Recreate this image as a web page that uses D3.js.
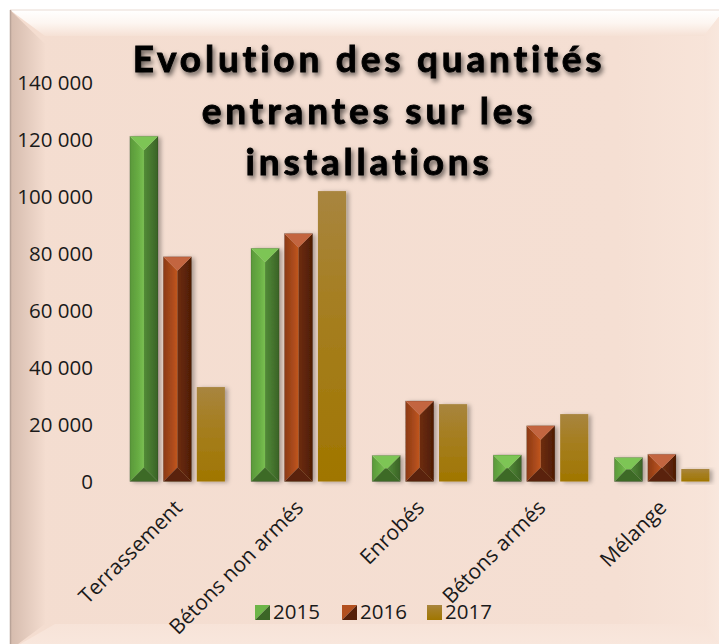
<!DOCTYPE html>
<html><head><meta charset="utf-8">
<script src="https://cdn.jsdelivr.net/npm/d3@7"></script>
<style>html,body{margin:0;padding:0;background:#fff;}svg{display:block;}</style>
</head><body>
<script>
const categories = ["Terrassement", "Bétons non armés", "Enrobés", "Bétons armés", "Mélange"];
const years = ["2015", "2016", "2017"];
const values2015 = [121400, 82000, 9100, 9300, 8400];
const values2016 = [79000, 87200, 28300, 19600, 9600];
const values2017 = [33200, 102100, 27200, 23700, 4400];
const yTicks = [0, 20000, 40000, 60000, 80000, 100000, 120000, 140000];
const titleLines = ["Evolution des quantités", "entrantes sur les", "installations"];

const W = 719, H = 644;
const svg = d3.select("body").append("svg").attr("width", W).attr("height", H);
const defs = svg.append("defs");

function lin(id, x1, y1, x2, y2, stops) {
  const g = defs.append("linearGradient").attr("id", id)
    .attr("x1", x1).attr("y1", y1).attr("x2", x2).attr("y2", y2);
  stops.forEach(s => g.append("stop").attr("offset", s[0]).attr("stop-color", s[1]));
}
// frame gradients
lin("gTop", 0, 0, 0, 1, [[0, "#ffffff"], [0.5, "#fdf6f1"], [1, "#f6e1d5"]]);
lin("gLeft", 0, 0, 1, 0, [[0, "#d5bbad"], [1, "#f3dccf"]]);
lin("gRight", 0, 0, 1, 0, [[0, "#f7e3d8"], [1, "#f9e9df"]]);
lin("gBot", 0, 0, 0, 1, [[0, "#f7e3d8"], [1, "#f9e8de"]]);
lin("gInner", 0, 0, 1, 0, [[0, "#f4ddd0"], [0.85, "#f5dfd3"], [1, "#f8e5da"]]);
// bar face gradients
lin("gL2015", 0, 0, 1, 0, [[0, "#5a983a"], [0.6, "#68ad43"], [1, "#79bf52"]]);
lin("gR2015", 0, 0, 1, 0, [[0, "#528b37"], [1, "#3a6226"]]);
lin("gL2016", 0, 0, 1, 0, [[0, "#8c3a15"], [0.6, "#aa4a1b"], [1, "#c2561f"]]);
lin("gR2016", 0, 0, 1, 0, [[0, "#6e2d0c"], [1, "#4e1c05"]]);
lin("gF2017", 0, 0, 0, 1, [[0, "#a8853f"], [0.35, "#a67f24"], [1, "#a07600"]]);

const shadow = defs.append("filter").attr("id", "barShadow").attr("x", "-30%").attr("y", "-10%").attr("width", "170%").attr("height", "130%");
shadow.append("feDropShadow").attr("dx", 3).attr("dy", 1).attr("stdDeviation", 2).attr("flood-color", "#000").attr("flood-opacity", 0.3);
const tshadow = defs.append("filter").attr("id", "titleShadow").attr("x", "-10%").attr("y", "-30%").attr("width", "120%").attr("height", "170%");
tshadow.append("feDropShadow").attr("dx", 2).attr("dy", 3).attr("stdDeviation", 2.4).attr("flood-color", "#000").attr("flood-opacity", 0.6);
const lshadow = defs.append("filter").attr("id", "lineGlow").attr("x", "-5%").attr("y", "-200%").attr("width", "110%").attr("height", "500%");
lshadow.append("feDropShadow").attr("dx", 0).attr("dy", 2).attr("stdDeviation", 1.5).attr("flood-color", "#9a8478").attr("flood-opacity", 0.5);

// ---- frame ----
const fx0 = 10, fy0 = 10, fx1 = 724, fy1 = 650;
const bt = 36, bl = 45, br = 704, bb = 624;
const frame = svg.append("g");
frame.append("rect").attr("x", fx0).attr("y", fy0).attr("width", fx1 - fx0).attr("height", fy1 - fy0).attr("fill", "url(#gInner)");
frame.append("polygon").attr("points", [[fx0, fy0], [fx1, fy0], [br, bt], [bl, bt]].join(" ")).attr("fill", "url(#gTop)");
frame.append("polygon").attr("points", [[fx0, fy0], [bl, bt + 8], [bl, bb], [fx0, fy1]].join(" ")).attr("fill", "url(#gLeft)");
frame.append("polygon").attr("points", [[fx1, fy0], [br, bt], [br, bb], [fx1, fy1]].join(" ")).attr("fill", "url(#gRight)");
frame.append("polygon").attr("points", [[fx0, fy1], [bl + 10, bb], [br, bb], [fx1, fy1]].join(" ")).attr("fill", "url(#gBot)");
frame.append("line").attr("x1", fx0).attr("y1", fy0).attr("x2", fx1).attr("y2", fy0).attr("stroke", "#eadcd4").attr("stroke-width", 1.2);
frame.append("line").attr("x1", fx0 + 0.5).attr("y1", fy0).attr("x2", fx0 + 0.5).attr("y2", fy1).attr("stroke", "#b9a398").attr("stroke-width", 1.5);

// ---- scales ----
const y = d3.scaleLinear().domain([0, 140000]).range([481.5, 83.3]);
const x0 = d3.scaleBand().domain(categories).range([116.9, 722.5]).padding(0);
const x1 = d3.scaleBand().domain(years).range([13, 108]).paddingInner(0.16);
const seriesByYear = { "2015": values2015, "2016": values2016, "2017": values2017 };

const locale = d3.formatLocale({ decimal: ",", thousands: " ", grouping: [3], currency: ["", " €"] });
const fmt = locale.format(",d");

// y axis
const yAxis = svg.append("g").attr("transform", "translate(100,0)")
  .call(d3.axisLeft(y).tickValues(yTicks).tickFormat(fmt).tickSize(0).tickPadding(7));
yAxis.select(".domain").remove();
yAxis.selectAll("text").attr("font-family", "'Open Sans', sans-serif").attr("font-size", 20.5).attr("fill", "#1a1a1a");

// baseline
svg.append("line").attr("x1", x0.range()[0]).attr("x2", W).attr("y1", y(0) + 1).attr("y2", y(0) + 1)
  .attr("stroke", "#fbf2ed").attr("stroke-width", 3).attr("filter", "url(#lineGlow)");

// title
const title = svg.append("g").attr("filter", "url(#titleShadow)");
titleLines.forEach((t, i) => {
  title.append("text").attr("x", 369).attr("y", 72 + i * 51.5).attr("text-anchor", "middle")
    .attr("font-family", "Lato, 'Open Sans', sans-serif").attr("font-weight", 700)
    .attr("font-size", 37).attr("letter-spacing", 3.8).attr("fill", "#000")
    .attr("stroke", "#000").attr("stroke-width", 0.9).text(t);
});

// bars
const barsG = svg.append("g");
function bevelBar(g, yr, bx0, bx1, by0, by1) {
  const w = bx1 - bx0, h = by1 - by0;
  const b = Math.min(w / 2, h / 2);
  const pal = yr === "2015"
    ? { top: "#7dc555", bot: "#3d6b28", L: "url(#gL2015)", R: "url(#gR2015)", C: "#62a640" }
    : { top: "#c3653f", bot: "#5a2409", L: "url(#gL2016)", R: "url(#gR2016)", C: "#9c4217" };
  const grp = g.append("g").attr("filter", "url(#barShadow)");
  const P = (pts, fill) => grp.append("polygon").attr("points", pts.map(p => p.join(",")).join(" ")).attr("fill", fill);
  P([[bx0, by0], [bx0 + b, by0 + b], [bx0 + b, by1 - b], [bx0, by1]], pal.L);
  P([[bx1, by0], [bx1 - b, by0 + b], [bx1 - b, by1 - b], [bx1, by1]], pal.R);
  if (w - 2 * b > 0.1) grp.append("rect").attr("x", bx0 + b).attr("y", by0 + b).attr("width", w - 2 * b).attr("height", Math.max(0, h - 2 * b)).attr("fill", pal.C);
  P([[bx0, by0], [bx1, by0], [bx1 - b, by0 + b], [bx0 + b, by0 + b]], pal.top);
  P([[bx0, by1], [bx1, by1], [bx1 - b, by1 - b], [bx0 + b, by1 - b]], pal.bot);
  grp.append("rect").attr("x", bx0).attr("y", by0).attr("width", w).attr("height", h)
    .attr("fill", "none").attr("stroke", "rgba(0,0,0,0.25)").attr("stroke-width", 0.6);
}
categories.forEach((c, ci) => {
  years.forEach(yr => {
    const v = seriesByYear[yr][ci];
    const bx0 = x0(c) + x1(yr), bx1 = bx0 + x1.bandwidth();
    const by0 = y(v), by1 = y(0);
    if (yr === "2017") {
      barsG.append("rect").attr("x", bx0).attr("y", by0).attr("width", bx1 - bx0).attr("height", by1 - by0)
        .attr("fill", "url(#gF2017)").attr("filter", "url(#barShadow)");
    } else {
      bevelBar(barsG, yr, bx0, bx1, by0, by1);
    }
  });
});

// category labels
const catG = svg.append("g");
categories.forEach(c => {
  const cx = x0(c) + x0.bandwidth() / 2;
  catG.append("text").attr("transform", `translate(${cx + 6},${509}) rotate(-45)`)
    .attr("text-anchor", "end").attr("font-family", "'Open Sans', sans-serif").attr("font-size", 21)
    .attr("fill", "#1a1a1a").text(c);
});

// legend
const legendX = [255, 342, 427];
const legG = svg.append("g");
years.forEach((yr, i) => {
  const lx = legendX[i], ly = 605;
  const g = legG.append("g");
  if (yr === "2017") {
    g.append("rect").attr("x", lx).attr("y", ly).attr("width", 15).attr("height", 15).attr("fill", "url(#gF2017)");
  } else {
    const light = yr === "2015" ? "#6db548" : "#b3501f";
    const dark = yr === "2015" ? "#3b6626" : "#55200a";
    g.append("polygon").attr("points", [[lx, ly], [lx + 15, ly], [lx, ly + 15]].join(" ")).attr("fill", light);
    g.append("polygon").attr("points", [[lx + 15, ly], [lx + 15, ly + 15], [lx, ly + 15]].join(" ")).attr("fill", dark);
  }
  g.append("text").attr("x", lx + 18).attr("y", 619).attr("font-family", "'Open Sans', sans-serif")
    .attr("font-size", 20.5).attr("fill", "#1a1a1a").text(yr);
});
</script>
</body></html>
